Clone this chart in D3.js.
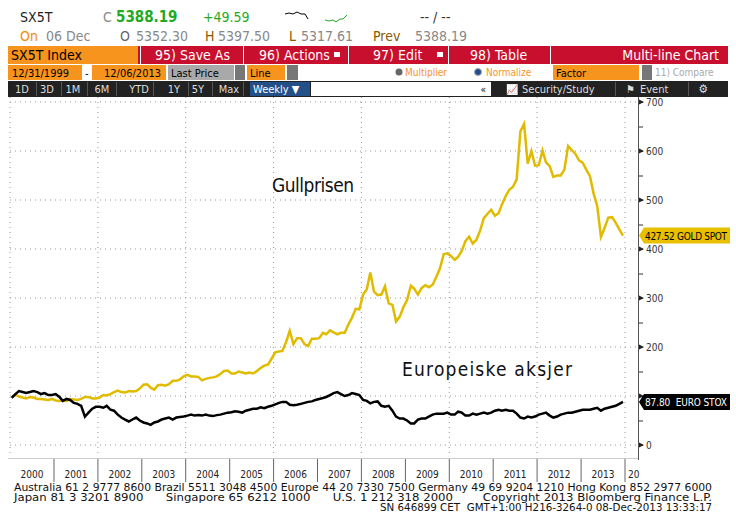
<!DOCTYPE html>
<html><head><meta charset="utf-8">
<script src="https://cdn.jsdelivr.net/npm/d3@7/dist/d3.min.js"></script>
<style>body{margin:0;background:#fff}svg{display:block}text{font-family:"DejaVu Sans Condensed","DejaVu Sans",sans-serif;white-space:pre}</style>
</head><body><svg id="c" width="736" height="527"></svg>
<script>
const years = [2000,2001,2002,2003,2004,2005,2006,2007,2008,2009,2010,2011,2012,2013];
const goldValues = [
98,103,99,97,95,98,97,94,94,93,92,94,
91,90,91,90,94,93,92,94,98,98,95,95,
97,102,101,104,108,111,108,107,110,109,110,115,
123,124,117,113,122,123,121,124,131,131,134,140,
143,140,140,139,132,135,137,138,140,145,151,152,
146,146,150,148,146,148,146,151,157,162,164,176,
189,191,192,210,233,206,218,218,206,202,217,217,
218,229,226,234,230,226,229,229,246,260,278,277,
307,318,352,313,306,307,324,289,286,252,262,281,
296,325,319,307,320,326,322,327,343,360,389,391,
386,378,384,396,416,425,411,419,438,463,472,480,
468,473,491,508,521,527,542,640,655,574,600,570,
571,601,577,569,547,550,550,562,610,602,594,581,
576,561,549,513,488,425,443,464,465,454,440,427.52];
const euroValues = [
96,104,110,108,106,108,110,108,104,106,102,102,
104,98,90,94,92,86,84,80,58,66,74,78,
78,76,80,72,70,62,56,52,48,52,56,50,
46,44,41,46,48,52,54,56,52,56,57,58,
60,62,60,61,60,62,60,59,61,62,64,66,
67,69,68,66,70,72,74,74,77,75,78,80,
83,86,88,88,82,81,82,84,86,88,89,92,
94,96,98,102,106,108,104,100,102,106,104,102,
92,90,85,88,89,80,78,80,70,58,54,54,
50,44,44,52,54,54,58,62,64,64,64,66,
62,62,68,66,60,60,64,62,64,66,64,66,
70,72,70,72,70,70,64,56,54,58,56,58,
62,64,66,60,56,58,62,64,66,66,68,70,
72,72,72,74,76,70,74,76,78,80,84,87.8];
const yTicks = [0,100,200,300,400,500,600,700];

const svg = d3.select("#c");
const x = d3.scaleTime().domain([new Date(2000,0,1), new Date(2014,0,1)]).range([10,625]);
const y = d3.scaleLinear().domain([0,700]).range([445,102]);
const date = i => new Date(2000, i, 15);

const T=(px,py,t,c,s,a)=>svg.append("text").attr("x",px).attr("y",py).text(t).attr("fill",c).attr("font-size",s||13).attr("text-anchor",a||"start");
T(20,22,"SX5T","#222",14);
T(103,22,"C","#888",14); T(116,22,"5388.19","#1faa1f",15).attr("font-weight","bold");
T(203,22,"+49.59","#1faa1f",14);
T(420,22,"-- / --","#333",14);
svg.append("path").attr("d","M285,14 l4,-1 l4,1 l4,-2 l4,2 l4,0 l3,5").attr("fill","none").attr("stroke","#000");
svg.append("path").attr("d","M325,20 l4,1 l4,-1 l3,2 l4,-3 l3,0 l4,-4").attr("fill","none").attr("stroke","#1faa1f");
T(20,41,"On","#f08c00",14); T(46,41,"06 Dec","#888",14);
T(120,41,"O","#666",14); T(136,41,"5352.30","#888",14);
T(205,41,"H","#8a5a00",14); T(218,41,"5397.50","#888",14);
T(289,41,"L","#8a5a00",14); T(301,41,"5317.61","#888",14);
T(373,41,"Prev","#8a5a00",14); T(415,41,"5388.19","#888",14);

svg.append("rect").attr("x",8).attr("y",46).attr("width",720).attr("height",18).attr("fill","#c8102e");
svg.append("rect").attr("x",8).attr("y",46).attr("width",130).attr("height",18).attr("fill","#f7941d");
[140,243,348,448,550].forEach(d=>svg.append("rect").attr("x",d).attr("y",46).attr("width",1).attr("height",18).attr("fill","#fff"));
T(11,60,"SX5T Index","#000",14);
T(155,60,"95) Save As","#fff",14);
T(259,60,"96) Actions","#fff",14); T(373,60,"97) Edit","#fff",14); T(470,60,"98) Table","#fff",14);
T(719,60,"Multi-line Chart","#fff",14,"end");
svg.append("rect").attr("x",334).attr("y",52).attr("width",6).attr("height",5).attr("fill","#fff");
svg.append("rect").attr("x",437).attr("y",52).attr("width",6).attr("height",5).attr("fill","#fff");

const R=(px,py,w,h,c)=>svg.append("rect").attr("x",px).attr("y",py).attr("width",w).attr("height",h).attr("fill",c);
R(8,65,74,15,"#f7941d"); T(12,77,"12/31/1999","#000",11);
T(85,77,"-","#000",11);
R(92,65,74,15,"#f7941d"); T(104,77,"12/06/2013","#000",11);
R(168,65,66,15,"#a9a9a9"); T(171,77,"Last Price","#000",11);
R(235,65,10,15,"#777");
R(247,65,38,15,"#f7941d"); T(250,77,"Line","#000",11);
R(287,65,11,15,"#777");
svg.append("circle").attr("cx",399).attr("cy",72).attr("r",3.5).attr("fill","#666");
T(405,76,"Multiplier","#f7941d",10);
svg.append("circle").attr("cx",478).attr("cy",72).attr("r",3.5).attr("fill","#1f4f8f").attr("stroke","#aaa");
T(486,76,"Normalize","#f7941d",10);
R(553,65,86,15,"#f7941d"); T(556,77,"Factor","#000",11);
R(642,65,10,15,"#777"); T(655,76,"11) Compare","#aaa",10);

R(8,81,720,16,"#222");
const bx=[8,33,59,88,125,160,184,215];
["1D","3D","1M","6M","YTD","1Y","5Y","Max"].forEach((t,i)=>{T(bx[i]+14,93,t,"#ddd",11,"middle");svg.append("rect").attr("x",bx[i]+28).attr("y",82).attr("width",1).attr("height",14).attr("fill","#555");});
R(250,82,60,14,"#24508a"); T(253,93,"Weekly ▼","#fff",11);
R(311,82,180,14,"#fff"); T(486,93,"«","#000",10,"end");
T(522,93,"Security/Study","#ddd",11); T(506,93,"📈","#ddd",10);
T(640,93,"Event","#ddd",11); T(626,93,"⚑","#ddd",11);
T(703,93,"⚙","#ddd",12,"middle");
R(615,82,1,14,"#555"); R(688,82,1,14,"#555");

const g = svg.append("g");
yTicks.forEach(v=>g.append("line").attr("x1",10).attr("x2",638).attr("y1",y(v)).attr("y2",y(v)).attr("stroke","#999").attr("stroke-dasharray","1,4"));
for(let yr=2000; yr<=2014; yr+=2) g.append("line").attr("x1",x(new Date(yr,0,1))).attr("x2",x(new Date(yr,0,1))).attr("y1",97).attr("y2",455).attr("stroke","#999").attr("stroke-dasharray","1,4");

svg.append("line").attr("x1",638.5).attr("x2",638.5).attr("y1",97).attr("y2",460).attr("stroke","#555");
const ax = d3.axisRight(y).tickValues(d3.range(0,701,50)).tickSize(4).tickFormat(d=>(d%100===0 && d!==100)?d:"");
const axg = svg.append("g").attr("transform","translate(639,0)").call(ax);
axg.select(".domain").remove();
axg.selectAll("line").attr("stroke","#333");
axg.selectAll("text").attr("font-size",10).attr("fill","#333").attr("x",7).attr("font-family","DejaVu Sans Condensed");
yTicks.forEach(v=>svg.append("path").attr("d",`M639,${y(v)-2.5} l5,2.5 l-5,2.5z`).attr("fill","#222"));

const line = d3.line().x((d,i)=>x(date(i))).y(d=>y(d));
svg.append("path").datum(goldValues).attr("d",line).attr("fill","none").attr("stroke","#e0bb00").attr("stroke-width",2.5);
svg.append("path").datum(euroValues).attr("d",line).attr("fill","none").attr("stroke","#000").attr("stroke-width",2.5);

T(313,192,"Gullprisen","#111",19,"middle").attr("textLength",82);
T(487,376,"Europeiske aksjer","#111",19,"middle").attr("textLength",170);

const gy=y(goldValues[goldValues.length-1]), ey=y(euroValues[euroValues.length-1]);
svg.append("path").attr("d",`M639,${gy} l5,-8 h86 v16 h-86z`).attr("fill","#e8c000");
T(645,gy+4,"427.52 GOLD SPOT","#000",10).attr("textLength",82);
svg.append("path").attr("d",`M639,${ey} l5,-8 h86 v16 h-86z`).attr("fill","#000");
T(645,ey+4,"87.80  EURO STOX","#fff",10).attr("textLength",82);

svg.append("line").attr("x1",8).attr("x2",638).attr("y1",458.5).attr("y2",458.5).attr("stroke","#ccc");
years.forEach(yr=>{
  const a=x(new Date(yr,0,1)), b=x(new Date(yr+1,0,1));
  T((a+b)/2,478,String(yr),"#222",10,"middle");
  svg.append("line").attr("x1",b).attr("x2",b).attr("y1",459).attr("y2",482).attr("stroke","#666");
});
T(628,478,"20","#222",10);

const F=(px,py,t,w)=>svg.append("text").attr("x",px).attr("y",py).text(t).attr("font-size",9.6).attr("fill","#111").attr("font-family","DejaVu Sans Mono").attr("textLength",w).attr("lengthAdjust","spacingAndGlyphs");
F(14,491,"Australia 61 2 9777 8600 Brazil 5511 3048 4500 Europe 44 20 7330 7500 Germany 49 69 9204 1210 Hong Kong 852 2977 6000",698);
F(14,501,"Japan 81 3 3201 8900      Singapore 65 6212 1000      U.S. 1 212 318 2000        Copyright 2013 Bloomberg Finance L.P.",698);
F(380,511,"SN 646899 CET  GMT+1:00 H216-3264-0 08-Dec-2013 13:33:17",332);
</script></body></html>
